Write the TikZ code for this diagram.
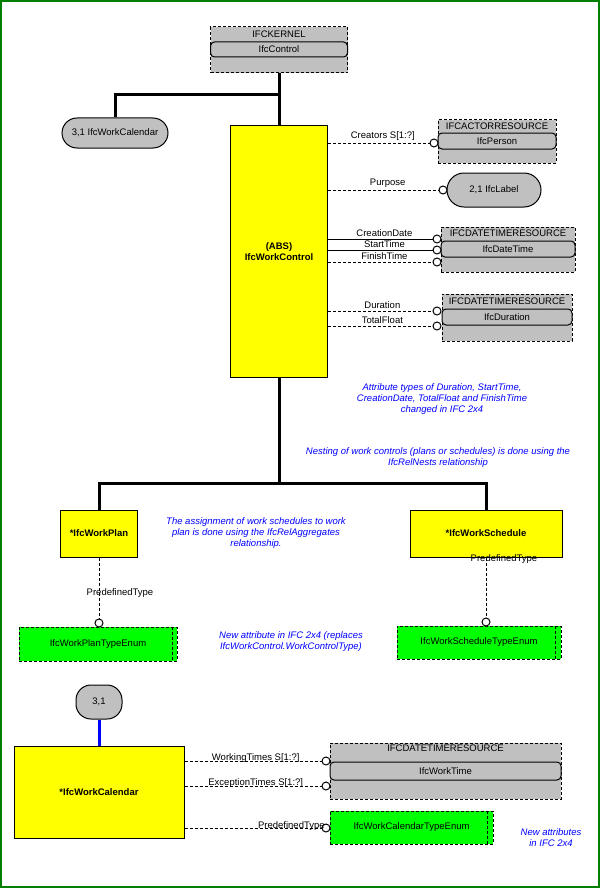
\documentclass[tikz,border=0pt]{standalone}
\usepackage{fontspec}
\setmainfont{Liberation Sans}
\definecolor{schemagray}{RGB}{192,192,192}
\definecolor{entyellow}{RGB}{255,255,0}
\definecolor{enumgreen}{RGB}{0,255,0}
\definecolor{framegreen}{RGB}{0,128,0}
\definecolor{noteblue}{RGB}{0,0,255}
\newcommand\diagfont{\fontsize{9.5}{11}\selectfont}
\tikzset{
  attrline/.style={dash pattern=on 3pt off 2pt},
  schema/.style={draw, attrline, fill=schemagray, inner sep=0pt},
  entity/.style={draw, rounded corners=4pt, fill=schemagray, inner sep=0pt, minimum height=16pt},
  entitybox/.style={draw, fill=entyellow, align=center, inner sep=0pt, font=\diagfont\bfseries},
  enumbox/.style={draw, attrline, fill=enumgreen, inner sep=0pt},
  refpill/.style={draw, fill=schemagray, inner sep=0pt},
  hub/.style={circle, draw, fill=white, inner sep=0pt, minimum size=8pt},
  attrlabel/.style={inner sep=2pt},
  note/.style={text=noteblue, align=center, inner sep=0pt, font=\diagfont\itshape},
  tree/.style={line width=3pt},
}
\begin{document}
\begin{tikzpicture}[x=1pt,y=-1pt,line width=1pt,font=\diagfont]
  \useasboundingbox (0,0) rectangle (600,888);
  \draw[framegreen, line width=2pt] (1,1) rectangle (599,887);

  \node[schema, minimum width=137pt, minimum height=46pt] (kernel) at (279,50) {};
  \node (kernelhead) at (279,34) {IFCKERNEL};
  \node[entity, minimum width=137pt, minimum height=15pt] (control) at (279,49.5) {IfcControl};

  \node[refpill, rounded corners=15pt, minimum width=106pt, minimum height=30pt] (calref) at (115,133) {3,1 IfcWorkCalendar};
  \node[entitybox, minimum width=97pt, minimum height=251pt] (ctrl) at (279,251.5) {(ABS)\\IfcWorkControl};

  \node[schema, minimum width=118pt, minimum height=43pt] (actorres) at (497,141.5) {};
  \node (actorhead) at (497,126.5) {IFCACTORRESOURCE};
  \node[entity, minimum width=118pt] (person) at (497,141) {IfcPerson};

  \node[refpill, rounded corners=17pt, minimum width=94pt, minimum height=34pt] (labelref) at (494,190) {2,1 IfcLabel};

  \node[schema, minimum width=134pt, minimum height=45pt] (dtres) at (508,249.5) {};
  \node (dthead) at (508,233.5) {IFCDATETIMERESOURCE};
  \node[entity, minimum width=134pt] (datetime) at (508,249) {IfcDateTime};

  \node[schema, minimum width=130pt, minimum height=47pt] (durres) at (507,317.5) {};
  \node (durhead) at (507,301) {IFCDATETIMERESOURCE};
  \node[entity, minimum width=130pt] (duration) at (507,317) {IfcDuration};

  \node (crhub) [hub] at (434,143) {};
  \node (puhub) [hub] at (443,190) {};
  \node (cdhub) [hub] at (437,239) {};
  \node (sthub) [hub] at (437,250) {};
  \node (fihub) [hub] at (437,262) {};
  \node (duhub) [hub] at (437,311) {};
  \node (tfhub) [hub] at (437,326) {};

  \node[note] (datenote) at (442,399) {Attribute types of Duration, StartTime,\\CreationDate, TotalFloat and FinishTime\\changed in IFC 2x4};
  \node[note] (nestnote) at (438,458) {Nesting of work controls (plans or schedules) is done using the\\IfcRelNests relationship};

  \node[entitybox, minimum width=77pt, minimum height=47pt] (plan) at (99,533.5) {*IfcWorkPlan};
  \node[entitybox, minimum width=152pt, minimum height=47pt] (sched) at (486,533.5) {*IfcWorkSchedule};
  \node[note] (aggnote) at (256,533) {The assignment of work schedules to work\\plan is done using the IfcRelAggregates\\relationship.};

  \node[enumbox, minimum width=158pt, minimum height=34pt] (planenum) at (98,644) {IfcWorkPlanTypeEnum};
  \node[enumbox, minimum width=164pt, minimum height=33pt] (schedenum) at (479,642.5) {IfcWorkScheduleTypeEnum};
  \node (planhub) [hub] at (99,623) {};
  \node (schedhub) [hub] at (486,622) {};
  \node[note] (typenote) at (291,642) {New attribute in IFC 2x4 (replaces\\IfcWorkControl.WorkControlType)};

  \node[refpill, rounded corners=15pt, minimum width=46pt, minimum height=34pt] (calref2) at (99,702) {3,1};
  \node[entitybox, minimum width=170pt, minimum height=92pt] (cal) at (99,792) {*IfcWorkCalendar};

  \node[schema, minimum width=231pt, minimum height=56pt] (wtres) at (445.5,771) {};
  \node (wthead) at (445.5,748.5) {IFCDATETIMERESOURCE};
  \node[entity, minimum width=231pt, minimum height=18pt] (worktime) at (445.5,771) {IfcWorkTime};
  \node[enumbox, minimum width=163pt, minimum height=33pt] (calenum) at (411.5,827.5) {IfcWorkCalendarTypeEnum};
  \node (wkhub) [hub] at (326,761) {};
  \node (exhub) [hub] at (326,786) {};
  \node (cthub) [hub] at (326,828) {};
  \node[note] (calnote) at (551,837.5) {New attributes\\in IFC 2x4};

  \coordinate (kjoin) at (279,95);
  \coordinate (cjoin) at (279,483);
  \begin{scope}[tree]
    \draw (kernel.south) -- (ctrl.north);
    \draw (kjoin) -| (calref.north);
    \draw (ctrl.south) -- (cjoin);
    \draw (plan.north) |- (sched.north |- cjoin) -- (sched.north);
  \end{scope}
  \draw[tree, noteblue] (calref2.south) -- (cal.north);

  \begin{scope}[attrline]
    \draw (ctrl.east |- crhub) -- (crhub) node[attrlabel, pos=0.54, above] {Creators S[1:?]};
    \draw (ctrl.east |- puhub) -- (puhub) node[attrlabel, pos=0.54, above] {Purpose};
    \draw (ctrl.east |- fihub) -- (fihub) node[attrlabel, pos=0.54, above] {FinishTime};
    \draw (ctrl.east |- duhub) -- (duhub) node[attrlabel, pos=0.52, above] {Duration};
    \draw (ctrl.east |- tfhub) -- (tfhub) node[attrlabel, pos=0.52, above] {TotalFloat};
    \draw ([xshift=-5pt]planenum.north east) -- ([xshift=-5pt]planenum.south east);
    \draw ([xshift=-6pt]schedenum.north east) -- ([xshift=-6pt]schedenum.south east);
    \draw ([xshift=-6pt]calenum.north east) -- ([xshift=-6pt]calenum.south east);
    \draw (plan.south) -- (planhub) node[attrlabel, pos=0.58, xshift=21pt] {PredefinedType};
    \draw (sched.south) -- (schedhub) node[attrlabel, pos=0, yshift=-2pt, xshift=18pt] {PredefinedType};
    \draw (cal.east |- wkhub) -- (wkhub) node[attrlabel, pos=0.52, yshift=3pt] {WorkingTimes S[1:?]};
    \draw (cal.east |- exhub) -- (exhub) node[attrlabel, pos=0.52, yshift=3pt] {ExceptionTimes S[1:?]};
    \draw (cal.east |- cthub) -- (cthub) node[attrlabel, pos=0.78, yshift=2pt] {PredefinedType};
  \end{scope}
  \draw (ctrl.east |- cdhub) -- (cdhub) node[attrlabel, pos=0.54, above] {CreationDate};
  \draw (ctrl.east |- sthub) -- (sthub) node[attrlabel, pos=0.54, above] {StartTime};
\end{tikzpicture}
\end{document}
